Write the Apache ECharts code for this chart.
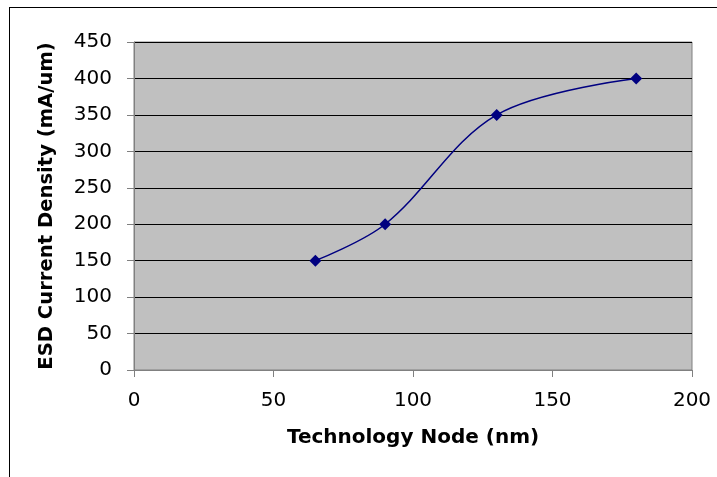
<!DOCTYPE html>
<html><head><meta charset="utf-8">
<script src="https://cdn.jsdelivr.net/npm/echarts@6/dist/echarts.min.js"></script>
<style>html,body{margin:0;padding:0;background:#fff}#c{width:717px;height:477px}
#frame{position:absolute;left:9px;top:7px;width:720px;height:480px;border:1px solid #000;box-sizing:border-box;pointer-events:none}</style>
</head><body><div id="c"></div><div id="frame"></div>
<script>
const nodes = [65, 90, 130, 180];
const density = [150, 200, 350, 400];
const xTitle = 'Technology Node (nm)';
const yTitle = 'ESD Current Density (mA/um)';

const chart = echarts.init(document.getElementById('c'));
chart.setOption({
  animation: false,
  grid: {left: 134, top: 42, width: 558, height: 328, show: true, backgroundColor: '#C0C0C0', borderColor: '#808080', borderWidth: 1},
  xAxis: {
    type: 'value', min: 0, max: 200, interval: 50,
    name: xTitle, nameLocation: 'middle', nameGap: 58,
    nameTextStyle: {fontFamily: 'DejaVu Sans', fontWeight: 'bold', fontSize: 20, color: '#000'},
    axisLine: {show: true, onZero: false, lineStyle: {color: '#808080'}},
    axisTick: {show: true, length: 7, lineStyle: {color: '#808080'}},
    axisLabel: {fontFamily: 'DejaVu Sans', fontSize: 20, color: '#000', margin: 21},
    splitLine: {show: false}
  },
  yAxis: {
    type: 'value', min: 0, max: 450, interval: 50,
    name: yTitle, nameLocation: 'middle', nameGap: 77,
    nameTextStyle: {fontFamily: 'DejaVu Sans', fontWeight: 'bold', fontSize: 19.6, color: '#000'},
    axisLine: {show: true, lineStyle: {color: '#808080'}},
    axisTick: {show: true, length: 7, lineStyle: {color: '#808080'}},
    axisLabel: {fontFamily: 'DejaVu Sans', fontSize: 20, color: '#000', margin: 22},
    splitLine: {show: true, lineStyle: {color: '#000', width: 1}}
  },
  series: [{
    type: 'line', data: nodes.map((x, i) => [x, density[i]]),
    smooth: 0.35, symbol: 'diamond', symbolSize: 12,
    lineStyle: {color: '#000080', width: 1.5},
    itemStyle: {color: '#000080'}
  }]
});
</script></body></html>
